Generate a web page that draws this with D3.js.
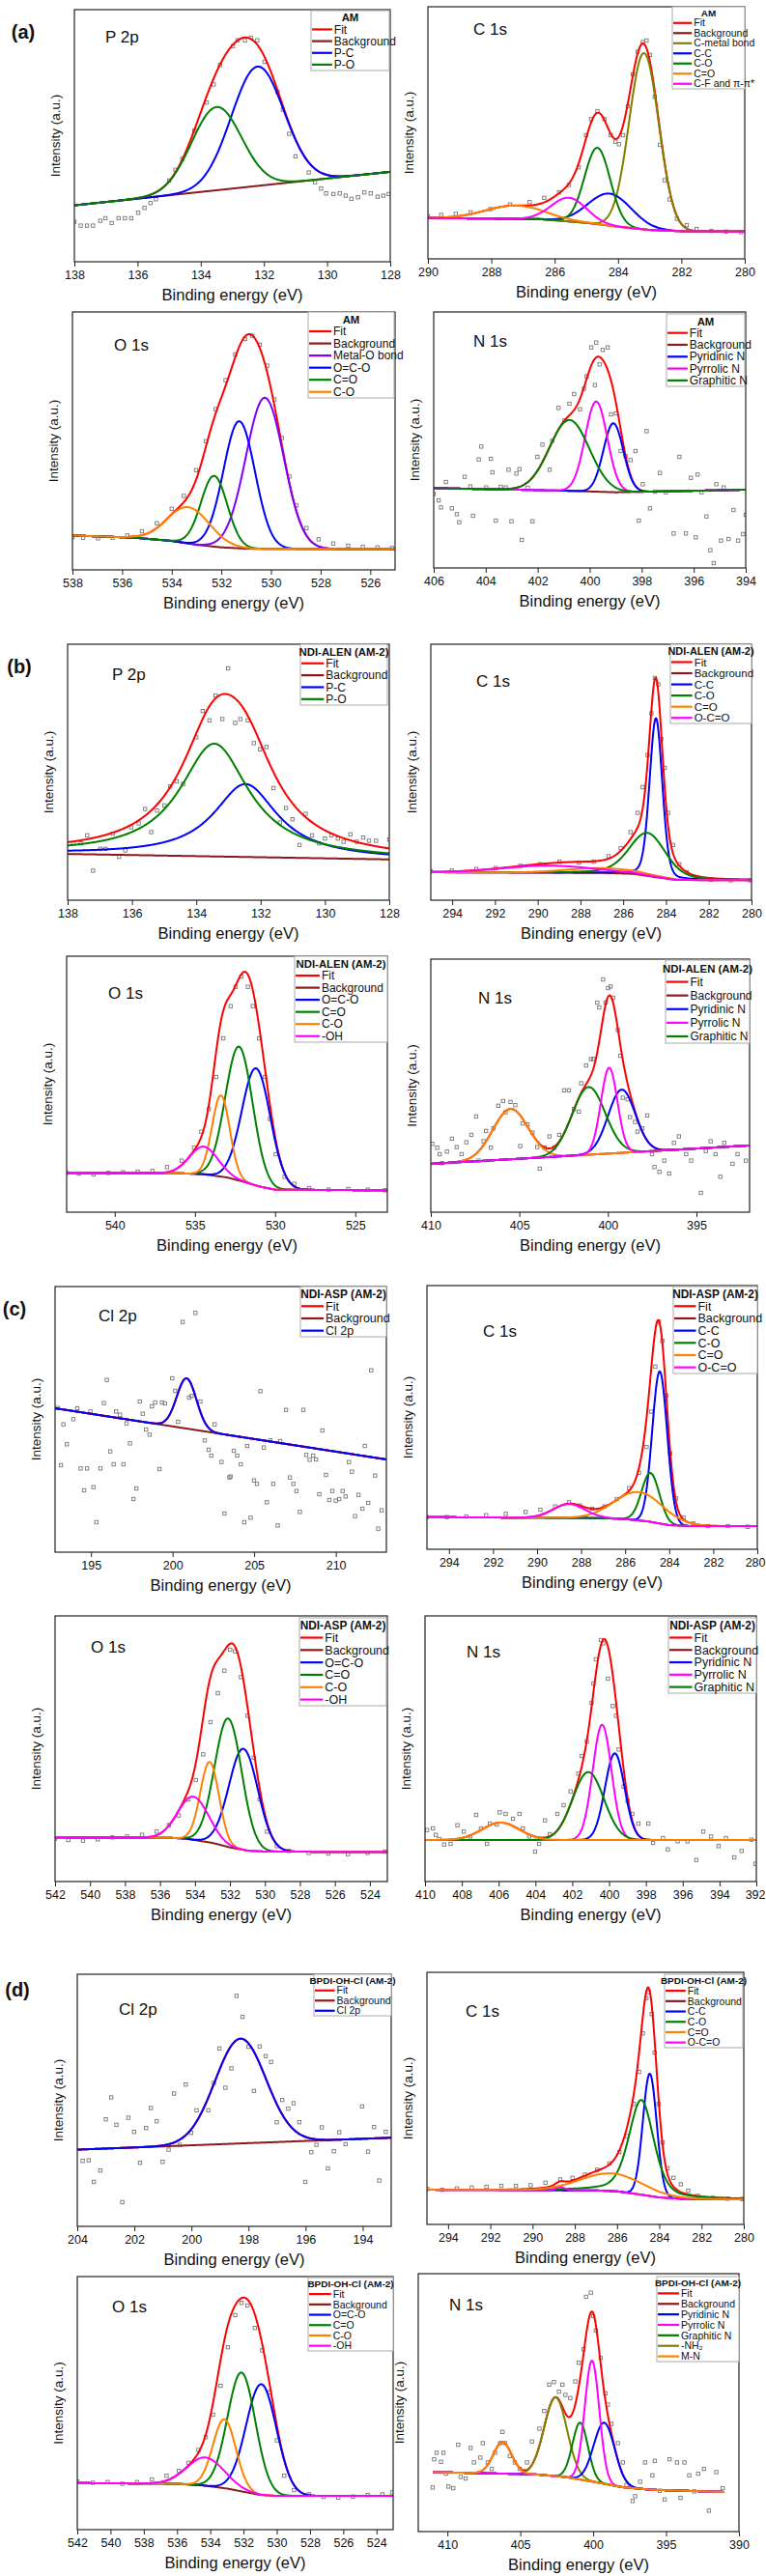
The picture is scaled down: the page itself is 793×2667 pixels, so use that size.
<!DOCTYPE html>
<html>
<head>
<meta charset="utf-8">
<script src="https://cdn.jsdelivr.net/npm/d3@7"></script>
<style>
body { margin: 0; background: #fff; }
svg text { font-family: "Liberation Sans Narrow", "Arial Narrow", "Liberation Sans", Arial, sans-serif; fill: #111; }
svg text.reg { font-family: "Liberation Sans", Arial, sans-serif; }
</style>
</head>
<body>
<svg id="fig" width="793" height="2667"></svg>
<script>
// ---- data: energies in eV, intensities in a.u. ----
// peaks: [name, centre (eV), height above background, FWHM (eV), lorentz fraction]

// (a) AM
var a1Bg = [[138, 175], [128, 279]];
var a1Peaks = [["P-C", 132.2, 370, 1.96, 0], ["P-O", 133.5, 258, 1.86, 0]];
var a1Legend = ["P-C", "P-O"];
var a1Raw = [[138.0,124],[137.8,112],[137.6,112],[137.41,112],[137.18,127],[137.02,135],[136.82,120],[136.6,135],[136.4,135],[136.2,135],[135.98,152],[135.78,167],[135.59,182],[135.42,194],[135.0,252],[134.8,285],[134.58,319],[134.2,407],[133.81,494],[133.59,550],[133.39,610],[132.98,669],[132.83,687],[132.6,687],[132.41,695],[132.21,687],[131.98,620],[131.57,527],[131.4,472],[131.2,397],[131.0,327],[130.58,277],[130.38,247],[130.19,227],[130.03,212],[129.8,210],[129.6,212],[129.41,205],[129.23,195],[129.02,200],[128.82,215],[128.62,212],[128.4,202],[128.22,205],[128.05,210]];

var a2Bg = [[290, 127], [286.5, 124], [285, 112], [284, 100], [283, 90], [282, 86], [280, 85]];
var a2Peaks = [["C-metal bond", 283.18, 549, 1.1, 0], ["C-C", 284.26, 100, 1.6, 0], ["C-O", 284.65, 238, 0.95, 0], ["C=O", 287.26, 41, 2.2, 0], ["C-F and π-π*", 285.55, 74, 1.3, 0]];
var a2Legend = ["C-metal bond", "C-C", "C-O", "C=O", "C-F and π-π*"];
var a2Raw = [[290.0,133],[289.58,137],[289.12,140],[288.65,145],[288.03,155],[287.41,169],[286.79,177],[286.33,190],[285.86,207],[285.55,230],[285.24,285],[285.01,385],[284.85,435],[284.65,460],[284.43,435],[284.23,385],[284.08,365],[283.97,357],[283.84,385],[283.69,475],[283.53,575],[283.38,645],[283.22,675],[283.1,680],[282.99,635],[282.84,505],[282.68,355],[282.53,245],[282.37,185],[282.14,125],[281.83,105],[281.52,93],[281.05,87],[280.59,85],[280.12,83]];

var a3Bg = [[538, 107], [535.5, 100], [534, 90], [533, 78], [532, 70], [531, 66], [530, 65], [525, 65]];
var a3Peaks = [["Metal-O bond", 530.25, 470, 1.8, 0], ["O=C-O", 531.28, 395, 1.5, 0], ["C=O", 532.29, 220, 1.25, 0], ["C-O", 533.32, 113, 2.0, 0]];
var a3Legend = ["Metal-O bond", "O=C-O", "C=O", "C-O"];
var a3Raw = [[538.0,102],[537.57,100],[536.97,98],[536.38,100],[535.79,107],[535.2,120],[534.6,145],[534.0,190],[533.51,230],[533.02,310],[532.62,400],[532.23,500],[531.83,590],[531.44,670],[531.04,718],[530.75,728],[530.45,700],[530.15,635],[529.86,530],[529.56,410],[529.26,290],[528.97,200],[528.57,130],[528.08,95],[527.49,82],[526.89,75],[526.3,72],[525.71,70],[525.12,68]];

var a4Bg = [[406, 248], [401, 240], [399, 235], [397, 238], [394, 243]];
var a4Peaks = [["Pyridinic N", 399.09, 214, 0.9, 0], ["Pyrrolic N", 399.75, 280, 1.0, 0], ["Graphitic N", 400.78, 220, 1.8, 0]];
var a4Legend = ["Pyridinic N", "Pyrrolic N", "Graphitic N"];
var a4Raw = [[406.0,230],[405.81,210],[405.72,188],[405.53,267],[405.3,185],[405.11,167],[405.02,142],[404.81,283],[404.59,253],[404.49,162],[404.27,337],[404.17,377],[403.98,250],[403.8,339],[403.74,297],[403.61,147],[403.42,252],[403.23,250],[403.12,305],[403.01,145],[402.82,293],[402.7,307],[402.61,87],[402.38,249],[402.2,145],[402.01,345],[401.82,383],[401.54,305],[401.44,395],[401.2,497],[400.97,458],[400.78,510],[400.6,540],[400.37,493],[400.22,557],[400.12,595],[399.94,685],[399.8,568],[399.75,700],[399.62,632],[399.5,677],[399.31,685],[399.18,477],[398.99,480],[398.81,363],[398.62,347],[398.43,335],[398.24,363],[398.11,147],[397.96,260],[397.81,425],[397.68,185],[397.49,237],[397.3,295],[397.07,235],[396.77,107],[396.55,345],[396.3,107],[396.11,280],[395.92,95],[395.85,290],[395.7,235],[395.51,160],[395.36,55],[395.23,15],[395.13,260],[394.95,85],[394.85,250],[394.66,90],[394.47,180],[394.29,85],[394.1,105],[394.0,165]];

// (b) NDI-ALEN (AM-2)
var b1Bg = [[138, 144], [128, 127]];
var b1Peaks = [["P-C", 132.47, 227, 2.4, 1], ["P-O", 133.44, 351, 2.6, 1]];
var b1Legend = ["P-C", "P-O"];
var b1Raw = [[137.82,177],[137.59,177],[137.39,202],[137.21,92],[136.98,160],[136.82,160],[136.6,207],[136.4,135],[136.21,155],[136.02,227],[135.79,239],[135.59,284],[135.4,212],[135.22,279],[134.99,295],[134.81,354],[134.61,370],[134.41,362],[134.0,507],[133.8,589],[133.59,560],[133.4,637],[133.19,564],[133.01,722],[132.79,552],[132.63,564],[132.4,560],[132.21,489],[132.02,470],[131.82,477],[131.6,349],[131.4,242],[131.21,287],[131.01,252],[130.79,172],[130.6,269],[130.4,202],[130.18,177],[130.0,192],[129.8,202],[129.6,192],[129.42,182],[129.21,205],[129.01,182],[128.81,195],[128.63,185],[128.41,185],[128.0,189]];

var b2Bg = [[295, 87], [287, 85], [285.5, 82], [284.5, 72], [283.5, 63], [280, 62]];
var b2Peaks = [["C-C", 284.47, 495, 0.7, 0.2], ["C-O", 284.86, 134, 2.0, 0.3], ["C=O", 287.0, 15, 4, 0], ["O-C=O", 289.5, 22, 5, 0]];
var b2Legend = ["C-C", "C-O", "C=O", "O-C=O"];
var b2Raw = [[295.0,90],[294.02,92],[292.87,97],[291.96,100],[290.81,107],[289.9,112],[288.98,120],[288.07,117],[287.38,120],[286.69,137],[286.12,162],[285.66,212],[285.32,272],[285.09,352],[284.86,452],[284.68,582],[284.52,692],[284.36,672],[284.22,502],[284.06,412],[283.9,272],[283.67,172],[283.38,112],[283.03,87],[282.57,70],[281.89,64],[280.97,62],[280.06,62]];

var b3Bg = [[543, 122], [536, 121], [534.5, 118], [533, 108], [532, 95], [531, 80], [530, 70], [523, 68]];
var b3Peaks = [["O=C-O", 531.18, 364, 2.1, 0], ["C=O", 532.25, 416, 2.0, 0], ["C-O", 533.38, 252, 1.3, 0], ["-OH", 534.45, 86, 2.1, 0]];
var b3Legend = ["O=C-O", "C=O", "C-O", "-OH"];
var b3Raw = [[543.0,122],[542.24,120],[541.32,118],[540.4,122],[539.49,124],[538.57,126],[537.65,128],[536.74,140],[535.82,160],[535.06,200],[534.6,250],[534.14,320],[533.68,420],[533.23,540],[532.77,640],[532.46,700],[532.1,732],[531.7,700],[531.39,640],[531.0,540],[530.63,420],[530.32,290],[529.96,180],[529.41,110],[528.8,88],[527.88,75],[526.66,70],[525.44,72],[524.22,70],[523.15,68]];

var b4Bg = [[410, 150], [392, 207]];
var b4Peaks = [["", 405.5, 156, 2.35, 0], ["Pyridinic N", 399.22, 196, 1.8, 0], ["Graphitic N", 401.09, 210, 2.2, 0], ["Pyrrolic N", 399.93, 266, 1.1, 0]];
var b4Legend = ["Pyridinic N", "Pyrrolic N", "Graphitic N"];
var b4Raw = [[409.92,212],[409.64,200],[409.5,180],[409.37,152],[409.09,188],[408.81,228],[408.54,202],[408.26,180],[407.99,217],[407.71,240],[407.44,297],[407.3,160],[407.02,220],[406.88,252],[406.61,200],[406.47,260],[406.19,330],[405.92,345],[405.78,310],[405.5,342],[405.23,332],[404.95,205],[404.82,275],[404.54,272],[404.26,247],[403.99,202],[403.85,135],[403.57,200],[403.3,235],[403.02,200],[402.75,240],[402.47,378],[402.2,378],[401.92,320],[401.64,312],[401.51,400],[401.23,455],[400.95,475],[400.82,475],[400.6,650],[400.49,635],[400.27,722],[400.13,650],[399.99,695],[399.85,700],[399.71,665],[399.44,565],[399.3,485],[399.16,355],[398.89,350],[398.75,295],[398.47,280],[398.33,250],[398.06,260],[397.78,300],[397.51,180],[397.37,140],[397.09,125],[396.82,160],[396.54,120],[396.27,215],[395.99,235],[395.58,180],[395.3,160],[394.75,60],[394.47,190],[394.2,220],[393.92,180],[393.65,110],[393.43,215],[392.96,150],[392.68,180],[392.21,160]];

// (c) NDI-ASP (AM-2)
var c1Bg = [[192.8, 447], [213.1, 288]];
var c1Peaks = [["Cl 2p", 200.86, 156, 1.42, 0]];
var c1Legend = ["Cl 2p"];
var c1Raw = [[192.95,448],[193.16,270],[193.31,397],[193.52,335],[193.92,413],[194.16,447],[194.37,260],[194.58,192],[194.76,260],[194.97,437],[195.15,202],[195.33,93],[195.58,260],[195.79,463],[195.97,535],[196.18,313],[196.39,273],[196.54,437],[196.78,427],[196.99,273],[197.18,400],[197.39,338],[197.6,165],[197.78,198],[197.99,468],[198.17,430],[198.38,381],[198.59,365],[198.74,453],[198.93,465],[199.2,258],[199.35,465],[199.53,462],[199.98,540],[200.16,501],[200.34,405],[200.62,715],[201.01,480],[201.16,485],[201.4,743],[201.7,468],[201.97,347],[202.21,318],[202.37,300],[202.58,397],[203.0,280],[203.18,120],[203.48,232],[203.55,235],[203.75,315],[203.96,300],[204.18,273],[204.39,93],[204.57,330],[204.78,107],[204.99,223],[205.17,212],[205.38,500],[205.59,325],[205.78,155],[205.99,347],[206.17,212],[206.44,83],[206.59,345],[206.95,442],[207.19,232],[207.4,212],[207.59,190],[207.8,125],[208.01,442],[208.19,302],[208.4,287],[208.61,300],[208.79,288],[208.99,180],[209.18,378],[209.4,240],[209.61,162],[209.79,190],[210.0,160],[210.21,165],[210.42,190],[210.6,173],[210.81,280],[210.99,250],[211.18,112],[211.39,178],[211.63,135],[211.78,330],[211.99,153],[212.17,565],[212.41,238],[212.6,73],[212.81,130]];

var c2Bg = [[295, 100], [287, 97], [286, 94], [285, 87], [284, 75], [283, 72], [280, 72]];
var c2Peaks = [["C-C", 284.43, 473, 0.8, 0], ["C-O", 284.85, 152, 0.95, 0], ["C=O", 285.37, 88, 2.6, 0], ["O-C=O", 288.55, 43, 1.7, 0]];
var c2Legend = ["C-C", "C-O", "C=O", "O-C=O"];
var c2Raw = [[295.0,100],[294.1,100],[293.21,102],[292.31,106],[291.42,110],[290.52,116],[289.85,123],[289.18,133],[288.55,146],[288.06,136],[287.5,126],[286.94,133],[286.38,156],[285.82,190],[285.37,238],[285.03,318],[284.81,428],[284.63,568],[284.47,708],[284.31,648],[284.13,478],[283.96,298],[283.69,158],[283.35,98],[282.9,80],[282.23,72],[281.34,72],[280.44,70]];

var c3Bg = [[542, 137], [535.5, 136], [534.5, 133], [533, 120], [532, 106], [531, 96], [530, 93], [523, 92]];
var c3Peaks = [["O=C-O", 531.23, 314, 1.96, 0], ["C=O", 532.1, 399, 1.82, 0], ["C-O", 533.16, 250, 1.26, 0], ["-OH", 534.09, 134, 2.08, 0]];
var c3Legend = ["O=C-O", "C=O", "C-O", "-OH"];
var c3Raw = [[542.0,133],[541.24,129],[540.4,127],[539.56,131],[538.72,137],[537.88,140],[537.03,145],[536.19,155],[535.49,175],[534.93,205],[534.37,255],[533.95,315],[533.53,395],[533.11,495],[532.69,585],[532.32,655],[531.99,720],[531.71,715],[531.37,635],[531.0,515],[530.64,385],[530.3,255],[529.88,155],[529.32,110],[528.62,95],[527.5,89],[526.38,87],[525.25,85],[524.13,89],[523.15,93]];

var c4Bg = [[410, 129], [392, 129]];
var c4Peaks = [["Pyridinic N", 399.69, 269, 1.25, 0], ["Pyrrolic N", 400.38, 358, 1.2, 0], ["Graphitic N", 401.13, 211, 2.0, 0], ["", 405.89, 54, 2.4, 0]];
var c4Legend = ["Pyridinic N", "Pyrrolic N", "Graphitic N"];
var c4Raw = [[409.89,160],[409.57,165],[409.41,145],[409.23,132],[408.96,115],[408.61,117],[408.24,175],[407.89,155],[407.54,140],[407.22,207],[406.96,165],[406.63,117],[406.47,180],[406.1,177],[405.94,215],[405.62,210],[405.22,195],[404.87,210],[404.68,165],[404.34,140],[404.02,93],[403.8,117],[403.48,190],[403.22,147],[402.81,210],[402.47,237],[402.09,280],[401.67,335],[401.48,390],[401.21,435],[400.95,555],[400.85,615],[400.72,690],[400.45,750],[400.32,740],[400.06,630],[399.8,545],[399.62,515],[399.48,410],[399.21,295],[399.0,250],[398.74,210],[398.41,180],[397.87,180],[397.61,120],[397.07,135],[396.81,100],[396.27,125],[395.74,125],[395.26,67],[394.88,155],[394.46,140],[394.05,110],[393.65,135],[393.2,75],[392.8,95],[392.27,130],[392.05,55]];

// (d) BPDI-OH-Cl (AM-2)
var d1Bg = [[204, 238], [193, 275]];
var d1Peaks = [["Cl 2p", 198.28, 325, 2.1, 0]];
var d1Legend = ["Cl 2p"];
var d1Raw = [[203.81,203],[203.6,205],[203.42,138],[203.19,173],[203.0,332],[202.81,400],[202.63,315],[202.42,75],[202.21,337],[202.01,293],[201.8,197],[201.59,305],[201.42,367],[201.22,326],[201.01,200],[200.8,238],[200.61,412],[200.41,253],[200.2,440],[200.01,290],[199.82,360],[199.41,360],[199.21,445],[199.02,552],[198.81,430],[198.6,490],[198.42,715],[198.21,650],[198.0,557],[197.81,420],[197.61,558],[197.4,528],[197.21,510],[197.01,323],[196.82,392],[196.61,365],[196.42,382],[196.22,323],[196.01,138],[195.8,230],[195.62,253],[195.43,307],[195.22,180],[195.01,233],[194.82,292],[194.6,255],[194.02,372],[193.81,232],[193.6,308],[193.42,142],[193.19,293]];

var d2Bg = [[295, 108], [287, 106], [286, 103], [285, 94], [284, 84], [283, 80], [280, 78]];
var d2Peaks = [["C-C", 284.45, 381, 0.77, 0], ["C-O", 284.85, 295, 1.4, 0.4], ["O-C=O", 288.7, 10, 0.5, 0], ["C=O", 286.24, 55, 3.5, 0]];
var d2Legend = ["C-C", "C-O", "C=O", "O-C=O"];
var d2Raw = [[294.98,110],[294.28,108],[293.58,112],[292.88,115],[292.18,117],[291.48,120],[290.79,120],[290.09,122],[289.39,130],[288.69,140],[288.11,145],[287.52,155],[286.94,170],[286.36,190],[285.89,225],[285.54,275],[285.2,375],[284.96,475],[284.78,595],[284.61,705],[284.5,723],[284.36,655],[284.22,535],[284.03,375],[283.84,255],[283.61,175],[283.33,145],[282.98,125],[282.63,105],[282.17,89],[281.47,83],[280.77,80],[280.07,79]];

var d3Bg = [[542, 145], [536, 143], [534.5, 138], [533, 128], [532, 118], [531, 108], [530, 105], [523, 105]];
var d3Peaks = [["O=C-O", 530.93, 345, 2.15, 0], ["C=O", 532.12, 370, 1.98, 0], ["C-O", 533.15, 215, 1.62, 0], ["-OH", 534.27, 88, 2.65, 0]];
var d3Legend = ["O=C-O", "C=O", "C-O", "-OH"];
var d3Raw = [[542.0,150],[541.06,146],[540.17,148],[539.29,143],[538.4,148],[537.51,156],[536.63,168],[535.89,183],[535.3,208],[534.71,248],[534.27,288],[533.83,358],[533.38,448],[532.94,568],[532.5,668],[532.12,706],[531.76,698],[531.32,628],[530.88,558],[530.43,428],[529.99,278],[529.55,168],[528.96,123],[528.07,110],[527.19,102],[526.3,100],[525.42,103],[524.53,108],[523.65,110],[523.06,116]];

var d4Bg = [[412, 186], [404, 178], [402, 170], [400, 155], [398, 138], [396, 130], [390, 122]];
var d4Peaks = [["-NH₂", 402.58, 245, 1.85, 0], ["Graphitic N", 400.89, 177, 1.25, 0], ["Pyridinic N", 399.24, 190, 1.69, 0], ["Pyrrolic N", 400.08, 376, 1.18, 0], ["M-N", 406.22, 98, 1.48, 0]];
var d4Legend = ["Pyridinic N", "Pyrrolic N", "Graphitic N", "-NH₂", "M-N"];
var d4Raw = [[411.01,137],[410.91,225],[410.74,245],[410.44,217],[410.27,245],[410.1,180],[409.93,140],[409.6,135],[409.26,270],[409.09,170],[408.75,165],[408.41,260],[408.18,215],[407.74,230],[407.57,275],[407.23,215],[406.96,195],[406.73,245],[406.39,275],[406.22,310],[406.05,275],[405.72,235],[405.38,215],[405.04,195],[404.54,215],[404.2,280],[403.69,320],[403.36,375],[403.02,457],[402.69,465],[402.35,435],[402.11,457],[401.91,425],[401.57,415],[401.23,467],[400.99,525],[400.66,567],[400.49,730],[400.16,743],[399.99,670],[399.82,625],[399.49,540],[399.16,430],[398.99,395],[398.75,335],[398.3,275],[397.96,215],[397.72,145],[397.29,95],[397.12,110],[396.78,155],[396.44,215],[395.94,175],[395.77,220],[395.43,127],[395.09,100],[394.76,225],[394.25,215],[394.01,105],[393.74,215],[393.41,175],[393.07,125],[392.8,180],[392.4,195],[392.06,65],[391.55,185],[391.11,135]];

// tick labels
var ticksP = [138, 136, 134, 132, 130, 128];
var ticksC290 = [290, 288, 286, 284, 282, 280];
var ticksO538 = [538, 536, 534, 532, 530, 528, 526];
var ticksN406 = [406, 404, 402, 400, 398, 396, 394];
var ticksC294 = [294, 292, 290, 288, 286, 284, 282, 280];
var ticksO540 = [540, 535, 530, 525];
var ticksN410 = [410, 405, 400, 395];
var ticksCl195 = [195, 200, 205, 210];
var ticksO542 = [542, 540, 538, 536, 534, 532, 530, 528, 526, 524];
var ticksN410b = [410, 408, 406, 404, 402, 400, 398, 396, 394, 392];
var ticksCl204 = [204, 202, 200, 198, 196, 194];
var ticksN390 = [410, 405, 400, 395, 390];

// ---- styles ----
var FIT = "#ff0000", BGC = "#8b1a1a";
var BLUE = "#0000ff", GREEN = "#008000", ORANGE = "#ff8000", MAGENTA = "#ff00ff", VIOLET = "#8000ff", OLIVE = "#808000";
var colP = {"P-C": BLUE, "P-O": GREEN};
var colCA = {"C-metal bond": OLIVE, "C-C": BLUE, "C-O": GREEN, "C=O": ORANGE, "C-F and π-π*": MAGENTA};
var colOA = {"Metal-O bond": VIOLET, "O=C-O": BLUE, "C=O": GREEN, "C-O": ORANGE};
var colN = {"Pyridinic N": BLUE, "Pyrrolic N": MAGENTA, "Graphitic N": GREEN, "-NH₂": OLIVE, "M-N": ORANGE, "": ORANGE};
var colC = {"C-C": BLUE, "C-O": GREEN, "C=O": ORANGE, "O-C=O": MAGENTA};
var colO = {"O=C-O": BLUE, "C=O": GREEN, "C-O": ORANGE, "-OH": MAGENTA};
var colCl = {"Cl 2p": BLUE};

// layout table: frame [x0,y0,x1,y1], legend box, label position
var panels = [
  {frame: [77, 10, 404, 271], xDom: [138, 128], yMax: 782, ticks: ticksP, box: [322, 11, 403, 73], title: "AM", lf: 12, label: "P 2p", lp: [109, 38], bg: a1Bg, peaks: a1Peaks, legend: a1Legend, raw: a1Raw, col: colP},
  {frame: [443, 7, 771, 268], xDom: [290, 280], yMax: 785, ticks: ticksC290, box: [696, 7, 771, 92], title: "AM", lf: 10.5, label: "C 1s", lp: [490, 30], bg: a2Bg, peaks: a2Peaks, legend: a2Legend, raw: a2Raw, col: colCA},
  {frame: [75, 323, 409, 590], xDom: [538, 525], yMax: 802, ticks: ticksO538, box: [319, 323, 408, 412], title: "AM", lf: 12, label: "O 1s", lp: [118, 357], bg: a3Bg, peaks: a3Peaks, legend: a3Legend, raw: a3Raw, col: colOA},
  {frame: [449, 323, 772, 588], xDom: [406, 394], yMax: 795, ticks: ticksN406, box: [690, 325, 771, 400], title: "AM", lf: 12, label: "N 1s", lp: [490, 353], bg: a4Bg, peaks: a4Peaks, legend: a4Legend, raw: a4Raw, col: colN},
  {frame: [70, 667, 403, 932], xDom: [138, 128], yMax: 797, ticks: ticksP, box: [311, 667, 401, 730], title: "NDI-ALEN (AM-2)", lf: 12, label: "P 2p", lp: [116, 698], bg: b1Bg, peaks: b1Peaks, legend: b1Legend, raw: b1Raw, col: colP},
  {frame: [446, 667, 778, 932], xDom: [295, 280], yMax: 797, ticks: ticksC294, box: [694, 667, 778, 749], title: "NDI-ALEN (AM-2)", lf: 11.5, label: "C 1s", lp: [493, 705], bg: b2Bg, peaks: b2Peaks, legend: b2Legend, raw: b2Raw, col: colC},
  {frame: [69, 990, 401, 1255], xDom: [543, 523], yMax: 795, ticks: ticksO540, box: [305, 990, 401, 1079], title: "NDI-ALEN (AM-2)", lf: 12, label: "O 1s", lp: [112, 1028], bg: b3Bg, peaks: b3Peaks, legend: b3Legend, raw: b3Raw, col: colO},
  {frame: [446, 993, 776, 1255], xDom: [410, 392], yMax: 785, ticks: ticksN410, box: [689, 994, 776, 1080], title: "NDI-ALEN (AM-2)", lf: 12, label: "N 1s", lp: [495, 1033], bg: b4Bg, peaks: b4Peaks, legend: b4Legend, raw: b4Raw, col: colN},
  {frame: [57, 1332, 400, 1607], xDom: [192.8, 213.1], yMax: 825, ticks: ticksCl195, box: [311, 1332, 400, 1384], title: "NDI-ASP (AM-2)", lf: 12.5, label: "Cl 2p", lp: [102, 1362], bg: c1Bg, peaks: c1Peaks, legend: c1Legend, raw: c1Raw, col: colCl},
  {frame: [442, 1331, 784, 1604], xDom: [295, 280], yMax: 820, ticks: ticksC294, box: [697, 1332, 784, 1422], title: "NDI-ASP (AM-2)", lf: 12.5, label: "C 1s", lp: [500, 1378], bg: c2Bg, peaks: c2Peaks, legend: c2Legend, raw: c2Raw, col: colC},
  {frame: [57, 1673, 401, 1948], xDom: [542, 523], yMax: 825, ticks: ticksO542, box: [310, 1675, 400, 1766], title: "NDI-ASP (AM-2)", lf: 12.5, label: "O 1s", lp: [94, 1705], bg: c3Bg, peaks: c3Peaks, legend: c3Legend, raw: c3Raw, col: colO},
  {frame: [440, 1673, 783, 1948], xDom: [410, 392], yMax: 825, ticks: ticksN410b, box: [692, 1675, 783, 1753], title: "NDI-ASP (AM-2)", lf: 12.5, label: "N 1s", lp: [483, 1710], bg: c4Bg, peaks: c4Peaks, legend: c4Legend, raw: c4Raw, col: colN},
  {frame: [80, 2044, 405, 2305], xDom: [204, 193], yMax: 782, ticks: ticksCl204, box: [325, 2044, 405, 2087], title: "BPDI-OH-Cl (AM-2)", lf: 10.5, label: "Cl 2p", lp: [123, 2080], bg: d1Bg, peaks: d1Peaks, legend: d1Legend, raw: d1Raw, col: colCl},
  {frame: [442, 2042, 770, 2303], xDom: [295, 280], yMax: 785, ticks: ticksC294, box: [688, 2044, 769, 2120], title: "BPDI-OH-Cl (AM-2)", lf: 10.5, label: "C 1s", lp: [482, 2082], bg: d2Bg, peaks: d2Peaks, legend: d2Legend, raw: d2Raw, col: colC},
  {frame: [80, 2357, 407, 2619], xDom: [542, 523], yMax: 788, ticks: ticksO542, box: [319, 2358, 407, 2434], title: "BPDI-OH-Cl (AM-2)", lf: 10.5, label: "O 1s", lp: [116, 2388], bg: d3Bg, peaks: d3Peaks, legend: d3Legend, raw: d3Raw, col: colO},
  {frame: [433, 2354, 765, 2621], xDom: [412, 390], yMax: 802, ticks: ticksN390, span: [411, 391], box: [680, 2357, 765, 2445], title: "BPDI-OH-Cl (AM-2)", lf: 10.5, label: "N 1s", lp: [465, 2386], bg: d4Bg, peaks: d4Peaks, legend: d4Legend, raw: d4Raw, col: colN}
];

var letters = [["(a)", 24, 33], ["(b)", 20, 690], ["(c)", 15, 1355], ["(d)", 18, 2060]];

// pseudo-Voigt line shape of one fitted component
function peakAt(e, p) {
  var u = (e - p[1]) / p[3];
  return p[2] * ((1 - p[4]) * Math.exp(-4 * Math.LN2 * u * u) + p[4] / (1 + 4 * u * u));
}

var svg = d3.select("#fig");
var defs = svg.append("defs");
var W = 793;

panels.forEach(function(p, k) {
  var x0 = p.frame[0], y0 = p.frame[1], x1 = p.frame[2], y1 = p.frame[3];
  var x = d3.scaleLinear().domain(p.xDom).range([x0, x1]);
  var y = d3.scaleLinear().domain([0, p.yMax]).range([y1, y0]);
  var g = svg.append("g");

  defs.append("clipPath").attr("id", "clip" + k)
    .append("rect").attr("x", x0).attr("y", y0).attr("width", x1 - x0).attr("height", y1 - y0);
  var plot = g.append("g").attr("clip-path", "url(#clip" + k + ")");

  // raw data: open squares
  plot.selectAll("rect.raw").data(p.raw).join("rect")
    .attr("class", "raw")
    .attr("x", function(d) { return x(d[0]) - 1.7; })
    .attr("y", function(d) { return y(d[1]) - 1.7; })
    .attr("width", 3.4).attr("height", 3.4)
    .attr("fill", "none").attr("stroke", "#777").attr("stroke-width", 0.9);

  // background as piecewise linear through the read points
  var bgPts = p.bg.slice().sort(function(a, b) { return a[0] - b[0]; });
  var bgScale = d3.scaleLinear().domain(bgPts.map(function(d) { return d[0]; }))
    .range(bgPts.map(function(d) { return d[1]; })).clamp(true);

  var span = p.span || p.xDom;
  var es = d3.range(0, 501).map(function(i) { return span[0] + (span[1] - span[0]) * i / 500; });
  var line = d3.line().x(function(d) { return x(d[0]); }).y(function(d) { return y(d[1]); });

  function curve(data, color) {
    plot.append("path").datum(data).attr("d", line)
      .attr("fill", "none").attr("stroke", color).attr("stroke-width", 2)
      .attr("stroke-linejoin", "round");
  }

  curve(es.map(function(e) { return [e, bgScale(e) + d3.sum(p.peaks, function(q) { return peakAt(e, q); })]; }), FIT);
  curve(es.map(function(e) { return [e, bgScale(e)]; }), BGC);
  p.peaks.forEach(function(q) {
    curve(es.map(function(e) { return [e, bgScale(e) + peakAt(e, q)]; }), p.col[q[0]]);
  });

  // frame
  g.append("rect").attr("x", x0).attr("y", y0).attr("width", x1 - x0).attr("height", y1 - y0)
    .attr("fill", "none").attr("stroke", "#222").attr("stroke-width", 1.2);

  // x axis with minor ticks halfway between majors
  var step = Math.abs(p.ticks[1] - p.ticks[0]);
  var lo = Math.min(p.xDom[0], p.xDom[1]), hi = Math.max(p.xDom[0], p.xDom[1]);
  var minor = [];
  p.ticks.forEach(function(t) {
    [t - step / 2, t + step / 2].forEach(function(m) {
      if (m > lo && m < hi && minor.indexOf(m) < 0) minor.push(m);
    });
  });
  var axG = g.append("g").attr("transform", "translate(0," + y1 + ")");
  axG.call(d3.axisBottom(x).tickValues(minor).tickSize(3).tickSizeOuter(0).tickFormat(""));
  axG.call(d3.axisBottom(x).tickValues(p.ticks).tickSize(5).tickSizeOuter(0).tickPadding(4).tickFormat(d3.format("d")));
  axG.selectAll(".domain").remove();
  axG.selectAll("line").attr("stroke", "#222");
  axG.selectAll("text").attr("font-size", 12.5).attr("fill", "#111")
    .style("font-family", "'Liberation Sans Narrow', 'Liberation Sans', Arial, sans-serif");
  // keep the last label inside the page
  axG.selectAll(".tick").each(function(t) {
    var txt = d3.select(this).select("text");
    if (txt.empty()) return;
    var half = txt.node().getComputedTextLength() / 2;
    if (x(t) + half > W - 1) txt.attr("x", W - 1 - half - x(t));
  });

  g.append("text").attr("x", (x0 + x1) / 2).attr("y", y1 + 40)
    .attr("text-anchor", "middle").attr("font-size", 16.5)
    .text("Binding energy (eV)");

  g.append("text").attr("class", "reg")
    .attr("transform", "translate(" + (x0 - 15) + "," + ((y0 + y1) / 2) + ") rotate(-90)")
    .attr("text-anchor", "middle").attr("font-size", 13.5)
    .text("Intensity (a.u.)");

  g.append("text").attr("class", "reg").attr("x", p.lp[0]).attr("y", p.lp[1] + 6)
    .attr("font-size", 17).text(p.label);

  // legend
  var bx0 = p.box[0], by0 = p.box[1], bx1 = p.box[2], by1 = p.box[3];
  var bw = bx1 - bx0;
  var entries = [["Fit", FIT], ["Background", BGC]].concat(p.legend.map(function(n) { return [n, p.col[n]]; }));
  var rowH = (by1 - by0) / (entries.length + 1.1);
  var lg = g.append("g");
  lg.append("rect").attr("x", bx0).attr("y", by0).attr("width", bw).attr("height", by1 - by0)
    .attr("fill", "#fff").attr("stroke", "#aaa").attr("stroke-width", 1);
  lg.append("text").attr("x", (bx0 + bx1) / 2).attr("y", by0 + rowH * 0.6 + p.lf * 0.35)
    .attr("text-anchor", "middle").attr("font-size", p.lf * 0.95).attr("font-weight", "bold")
    .text(p.title);
  entries.forEach(function(en, i) {
    var cy = by0 + rowH * (i + 1.6);
    lg.append("line").attr("x1", bx0 + 1).attr("x2", bx0 + bw * 0.27).attr("y1", cy).attr("y2", cy)
      .attr("stroke", en[1]).attr("stroke-width", 2.2);
    lg.append("text").attr("x", bx0 + bw * 0.27 + 2).attr("y", cy + p.lf * 0.35)
      .attr("font-size", p.lf).text(en[0]);
  });
});

letters.forEach(function(l) {
  svg.append("text").attr("class", "reg").attr("x", l[1]).attr("y", l[2] + 7)
    .attr("text-anchor", "middle").attr("font-size", 20).attr("font-weight", "bold").text(l[0]);
});
</script>
</body>
</html>
